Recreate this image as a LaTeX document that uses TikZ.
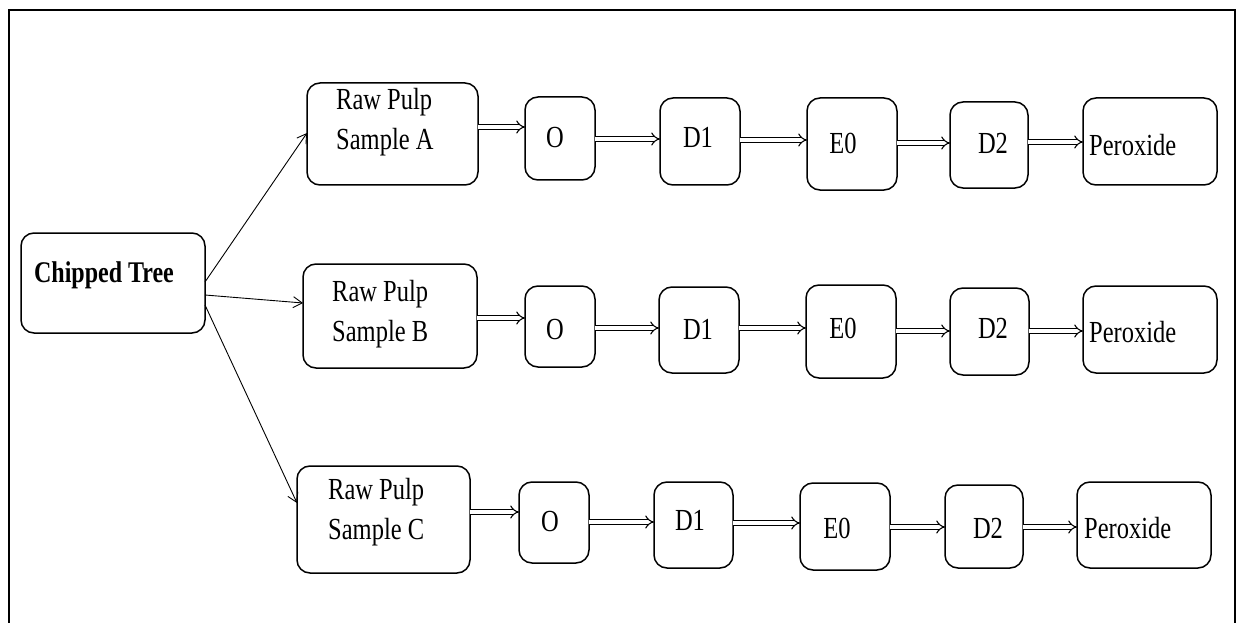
\documentclass[tikz,border=0pt]{standalone}
\usepackage{fontspec}
\usepackage{graphicx}
\setmainfont{Liberation Serif}
\usetikzlibrary{arrows.meta}

% tall, narrow lettering
\newcommand\tx[1]{\scalebox{1}[1.25]{#1}}
\newcommand\twolines[2]{\tx{\begin{tabular}{@{}l@{}}#1\\#2\end{tabular}}}
% rounded box from its corners: name, x1, y1, x2, y2
\newcommand\bx[5]{\node[box, minimum width={(#4-#2)*1pt}, minimum height={(#5-#3)*1pt}]
  (#1) at ({(#2+#4)/2},{(#3+#5)/2}) {};}

\tikzset{
  box/.style={draw, line width=1.5pt, rounded corners=13pt, inner sep=0pt, outer sep=0pt},
  lbl/.style={inner sep=0pt, font=\fontsize{24.5}{32}\selectfont},
  dbl/.style={double, line width=1.1pt, double distance=3.4pt, -{Implies[scale=1.3]}},
  branch/.style={line width=0.9pt, -{Straight Barb[length=9pt,width=11pt]}}
}

\begin{document}
\begin{tikzpicture}[x=1pt, y=-1pt]
\useasboundingbox (0,0) rectangle (1240,623);

% outer frame, open at the bottom
\draw[line width=2.6pt] (9,623) -- (9,10) -- (1235,10) -- (1235,623);

% source
\bx{CT}{21}{233}{205}{333}
\node[lbl, font=\fontsize{24}{30}\selectfont\bfseries] (tCT) at (104,275) {\tx{Chipped Tree}};

% row A
\bx{RA}{307}{83}{478}{185}
\bx{OA}{525}{97}{595}{180}
\bx{DA}{660}{98}{740}{185}
\bx{EA}{807}{98}{897}{190}
\bx{FA}{950}{102}{1028}{188}
\bx{PA}{1083}{98}{1217}{185}
\node[lbl, anchor=west] (tRA) at (336,122) {\twolines{Raw Pulp}{Sample A}};
\node[lbl] (tOA) at (555,138) {\tx{O}};
\node[lbl] (tDA) at (698,137) {\tx{D1}};
\node[lbl] (tEA) at (843,143) {\tx{E0}};
\node[lbl] (tFA) at (993,143) {\tx{D2}};
\node[lbl, anchor=west] (tPA) at (1089,145) {\tx{Peroxide}};

% row B
\bx{RB}{303}{264}{477}{368}
\bx{OB}{525}{286}{595}{367}
\bx{DB}{659}{287}{739}{373}
\bx{EB}{806}{285}{896}{378}
\bx{FB}{950}{288}{1029}{375}
\bx{PB}{1083}{286}{1217}{373}
\node[lbl, anchor=west] (tRB) at (332,313) {\twolines{Raw Pulp}{Sample B}};
\node[lbl] (tOB) at (555,330) {\tx{O}};
\node[lbl] (tDB) at (698,329) {\tx{D1}};
\node[lbl] (tEB) at (843,328) {\tx{E0}};
\node[lbl] (tFB) at (993,328) {\tx{D2}};
\node[lbl, anchor=west] (tPB) at (1089,332) {\tx{Peroxide}};

% row C
\bx{RC}{297}{466}{470}{573}
\bx{OC}{519}{482}{589}{563}
\bx{DC}{654}{482}{733}{568}
\bx{EC}{800}{483}{890}{570}
\bx{FC}{945}{485}{1023}{568}
\bx{PC}{1077}{482}{1211}{568}
\node[lbl, anchor=west] (tRC) at (328,511) {\twolines{Raw Pulp}{Sample C}};
\node[lbl] (tOC) at (550,522) {\tx{O}};
\node[lbl] (tDC) at (690,520) {\tx{D1}};
\node[lbl] (tEC) at (837,528) {\tx{E0}};
\node[lbl] (tFC) at (988,528) {\tx{D2}};
\node[lbl, anchor=west] (tPC) at (1084,528) {\tx{Peroxide}};

% branches from the chipped tree
\draw[branch] (CT.east |- 0,282) -- (RA.west |- 0,133);
\draw[branch] (CT.east |- 0,295) -- (RB.west |- 0,303);
\draw[branch] (CT.east |- 0,305) -- (RC.west |- 0,503);

% bleaching sequence, row A
\draw[dbl] (RA.east |- 0,127) -- (OA.west |- 0,127);
\draw[dbl] (OA.east |- 0,139) -- (DA.west |- 0,139);
\draw[dbl] (DA.east |- 0,140) -- (EA.west |- 0,140);
\draw[dbl] (EA.east |- 0,143) -- (FA.west |- 0,143);
\draw[dbl] (FA.east |- 0,142) -- (PA.west |- 0,142);

% row B
\draw[dbl] (RB.east |- 0,318) -- (OB.west |- 0,318);
\draw[dbl] (OB.east |- 0,328) -- (DB.west |- 0,328);
\draw[dbl] (DB.east |- 0,328) -- (EB.west |- 0,328);
\draw[dbl] (EB.east |- 0,331) -- (FB.west |- 0,331);
\draw[dbl] (FB.east |- 0,331) -- (PB.west |- 0,331);

% row C
\draw[dbl] (RC.east |- 0,512) -- (OC.west |- 0,512);
\draw[dbl] (OC.east |- 0,522) -- (DC.west |- 0,522);
\draw[dbl] (DC.east |- 0,523) -- (EC.west |- 0,523);
\draw[dbl] (EC.east |- 0,527) -- (FC.west |- 0,527);
\draw[dbl] (FC.east |- 0,527) -- (PC.west |- 0,527);
\end{tikzpicture}
\end{document}
